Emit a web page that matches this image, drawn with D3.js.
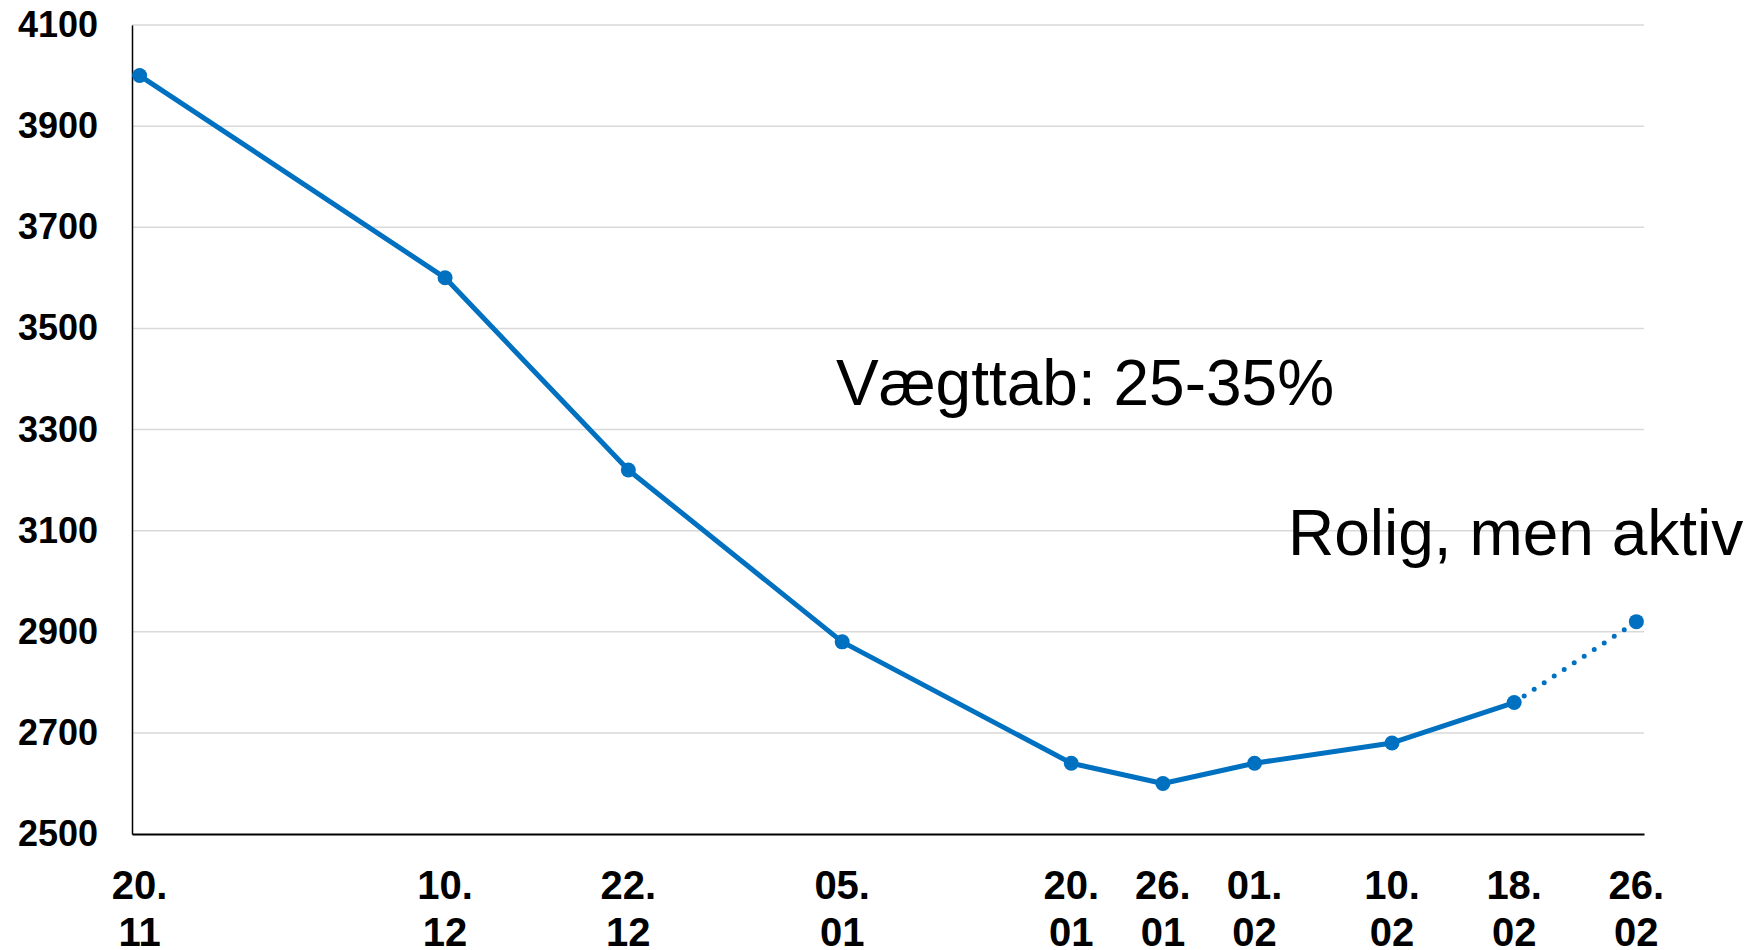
<!DOCTYPE html>
<html lang="da">
<head>
    <meta charset="UTF-8">
    <title>Vægt</title>
    <script src="https://d3js.org/d3.v7.min.js"></script>
    <style>
        body { margin: 0; background: #fff; }
        svg text { font-family: "Liberation Sans", Arial, sans-serif; }
    </style>
</head>
<body>

<div id="chart"></div>

<script>
    // data
    var dates = ["2023-11-20", "2023-12-10", "2023-12-22", "2024-01-05", "2024-01-20",
                 "2024-01-26", "2024-02-01", "2024-02-10", "2024-02-18", "2024-02-26"];
    var dayLabels   = ["20.", "10.", "22.", "05.", "20.", "26.", "01.", "10.", "18.", "26."];
    var monthLabels = ["11", "12", "12", "01", "01", "01", "02", "02", "02", "02"];
    var weights = [4000, 3600, 3220, 2880, 2640, 2600, 2640, 2680, 2760, 2920];
    var yTicks = [2500, 2700, 2900, 3100, 3300, 3500, 3700, 3900, 4100];
    var solidCount = 9; // last segment is dotted

    var color = "#0070C0";

    var margin = {top: 25, right: 114, bottom: 116, left: 132},
        width = 1758 - margin.left - margin.right,
        height = 950 - margin.top - margin.bottom;

    var svg = d3.select("#chart")
        .append("svg")
        .attr("width", 1758)
        .attr("height", 950)
        .append("g")
        .attr("transform", "translate(" + margin.left + "," + margin.top + ")");

    var parse = d3.timeParse("%Y-%m-%d");
    var data = dates.map(function(d, i) {
        return {date: parse(d), value: weights[i], day: dayLabels[i], month: monthLabels[i]};
    });

    // half a day of padding on each side
    var x = d3.scaleTime()
        .domain([d3.timeHour.offset(data[0].date, -12), d3.timeHour.offset(data[data.length - 1].date, 12)])
        .range([0, width]);

    var y = d3.scaleLinear()
        .domain([2500, 4100])
        .range([height, 0]);

    // gridlines
    svg.append("g")
        .selectAll("line")
        .data(yTicks.slice(1))
        .enter()
        .append("line")
        .attr("x1", 0)
        .attr("x2", width)
        .attr("y1", function(d) { return y(d); })
        .attr("y2", function(d) { return y(d); })
        .attr("stroke", "#d9d9d9")
        .attr("stroke-width", 1.5);

    // Y axis
    var yAxis = svg.append("g")
        .call(d3.axisLeft(y).tickValues(yTicks).tickSize(0).tickPadding(34).tickFormat(d3.format("d")));
    yAxis.select(".domain").attr("stroke", "#000").attr("stroke-width", 1.5);
    yAxis.selectAll("text")
        .attr("font-size", 36)
        .attr("font-weight", "bold")
        .attr("fill", "#000")
        .attr("font-family", "Liberation Sans, Arial, sans-serif");

    // X axis
    var xAxis = svg.append("g")
        .attr("transform", "translate(0," + height + ")")
        .call(d3.axisBottom(x).tickValues(data.map(function(d) { return d.date; })).tickSize(0).tickFormat(""));
    xAxis.select(".domain").attr("stroke", "#000").attr("stroke-width", 2);

    var labels = svg.append("g")
        .attr("transform", "translate(0," + height + ")")
        .selectAll("text")
        .data(data)
        .enter()
        .append("text")
        .attr("text-anchor", "middle")
        .attr("font-size", 40)
        .attr("font-weight", "bold")
        .attr("fill", "#000");
    labels.append("tspan")
        .attr("x", function(d) { return x(d.date); })
        .attr("y", 65)
        .text(function(d) { return d.day; });
    labels.append("tspan")
        .attr("x", function(d) { return x(d.date); })
        .attr("y", 112)
        .text(function(d) { return d.month; });

    var line = d3.line()
        .x(function(d) { return x(d.date); })
        .y(function(d) { return y(d.value); });

    svg.append("path")
        .datum(data.slice(0, solidCount))
        .attr("fill", "none")
        .attr("stroke", color)
        .attr("stroke-width", 5)
        .attr("stroke-linejoin", "round")
        .attr("d", line);

    svg.append("path")
        .datum(data.slice(solidCount - 1))
        .attr("fill", "none")
        .attr("stroke", color)
        .attr("stroke-width", 5)
        .attr("stroke-linecap", "round")
        .attr("stroke-dasharray", "0 12")
        .attr("d", line);

    // dots
    svg.append("g")
        .selectAll("circle")
        .data(data)
        .enter()
        .append("circle")
        .attr("cx", function(d) { return x(d.date); })
        .attr("cy", function(d) { return y(d.value); })
        .attr("r", 7.5)
        .style("fill", color);

    // annotations
    svg.append("text")
        .attr("x", 836 - margin.left)
        .attr("y", 405 - margin.top)
        .attr("font-size", 64)
        .attr("fill", "#000")
        .text("Vægttab: 25-35%");

    svg.append("text")
        .attr("x", 1288 - margin.left)
        .attr("y", 555 - margin.top)
        .attr("font-size", 64)
        .attr("fill", "#000")
        .text("Rolig, men aktiv");
</script>

</body>
</html>
